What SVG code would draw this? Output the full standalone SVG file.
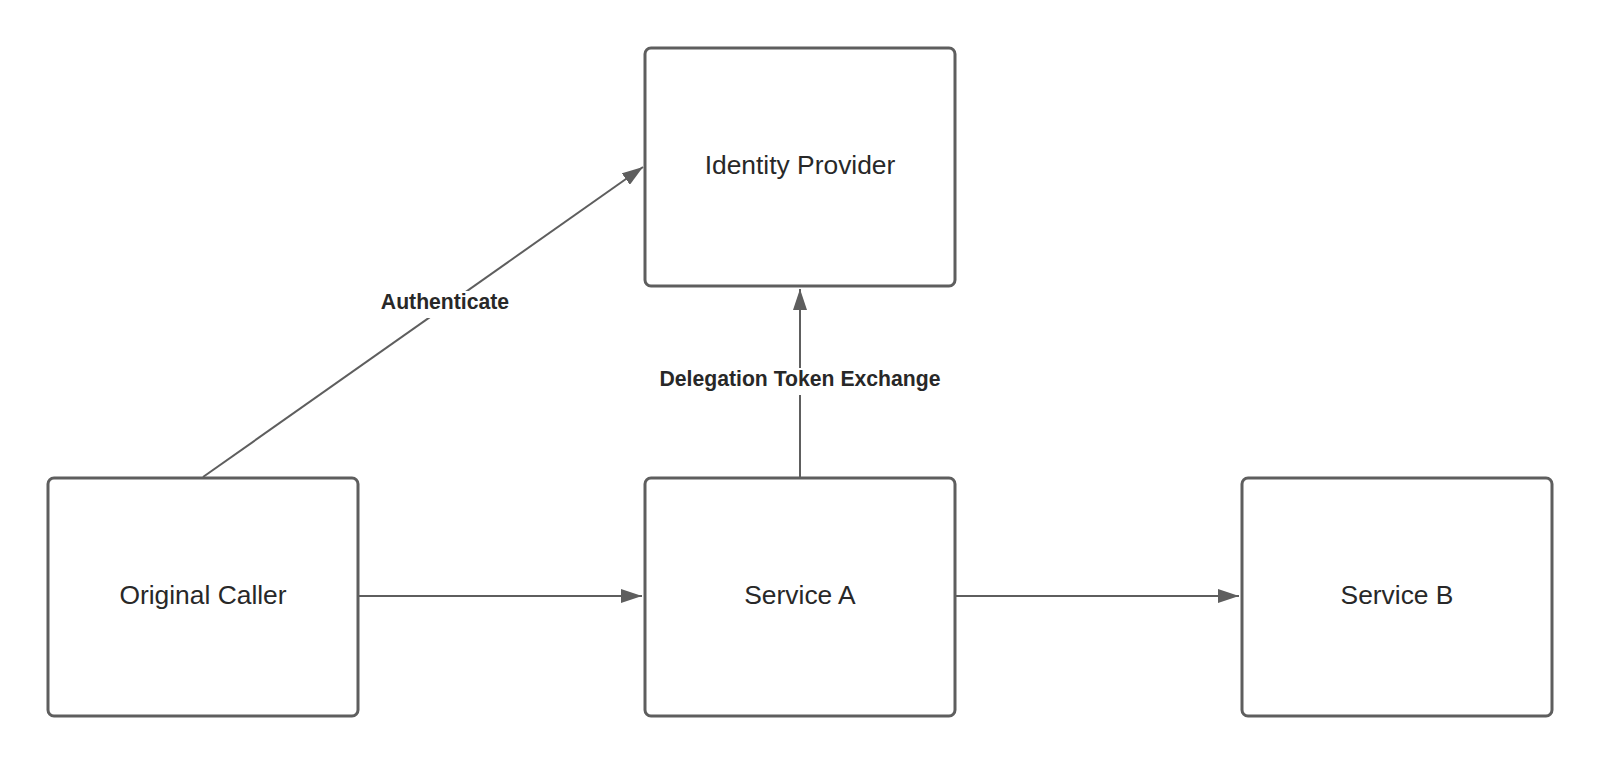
<svg xmlns="http://www.w3.org/2000/svg" width="1600" height="764" viewBox="0 0 1600 764">
  <style>
    .box { fill: #ffffff; stroke: #5e5e5e; stroke-width: 3; }
    .label { font-family: "Liberation Sans", Arial, sans-serif; font-size: 26.4px; fill: #282828; text-anchor: middle; }
    .edge { fill: none; stroke: #5e5e5e; stroke-width: 2; }
    .elabel { font-family: "Liberation Sans", Arial, sans-serif; font-size: 21.2px; font-weight: bold; fill: #282828; text-anchor: middle; }
  </style>
  <defs>
    <marker id="arrow" viewBox="0 0 21 14" refX="21" refY="7" markerWidth="21" markerHeight="14" markerUnits="userSpaceOnUse" orient="auto">
      <path d="M0,0 L21,7 L0,14 Z" fill="#5e5e5e"/>
    </marker>
  </defs>
  <rect width="1600" height="764" fill="#ffffff"/>

  <g id="connectors">
    <line class="edge" x1="203" y1="477" x2="643" y2="167" marker-end="url(#arrow)"/>
    <line class="edge" x1="358" y1="596" x2="642" y2="596" marker-end="url(#arrow)"/>
    <line class="edge" x1="955" y1="596" x2="1239" y2="596" marker-end="url(#arrow)"/>
    <line class="edge" x1="800" y1="477" x2="800" y2="289" marker-end="url(#arrow)"/>
    <rect x="380" y="291" width="130" height="27" fill="#ffffff"/>
    <text class="elabel" x="445" y="309">Authenticate</text>
    <rect x="657" y="368" width="286" height="27" fill="#ffffff"/>
    <text class="elabel" x="800" y="386">Delegation Token Exchange</text>
  </g>

  <g id="identity-provider">
    <rect class="box" x="645" y="48" width="310" height="238" rx="6"/>
    <text class="label" x="800" y="174">Identity Provider</text>
  </g>
  <g id="original-caller">
    <rect class="box" x="48" y="478" width="310" height="238" rx="6"/>
    <text class="label" x="203" y="604">Original Caller</text>
  </g>
  <g id="service-a">
    <rect class="box" x="645" y="478" width="310" height="238" rx="6"/>
    <text class="label" x="800" y="604">Service A</text>
  </g>
  <g id="service-b">
    <rect class="box" x="1242" y="478" width="310" height="238" rx="6"/>
    <text class="label" x="1397" y="604">Service B</text>
  </g>
</svg>
